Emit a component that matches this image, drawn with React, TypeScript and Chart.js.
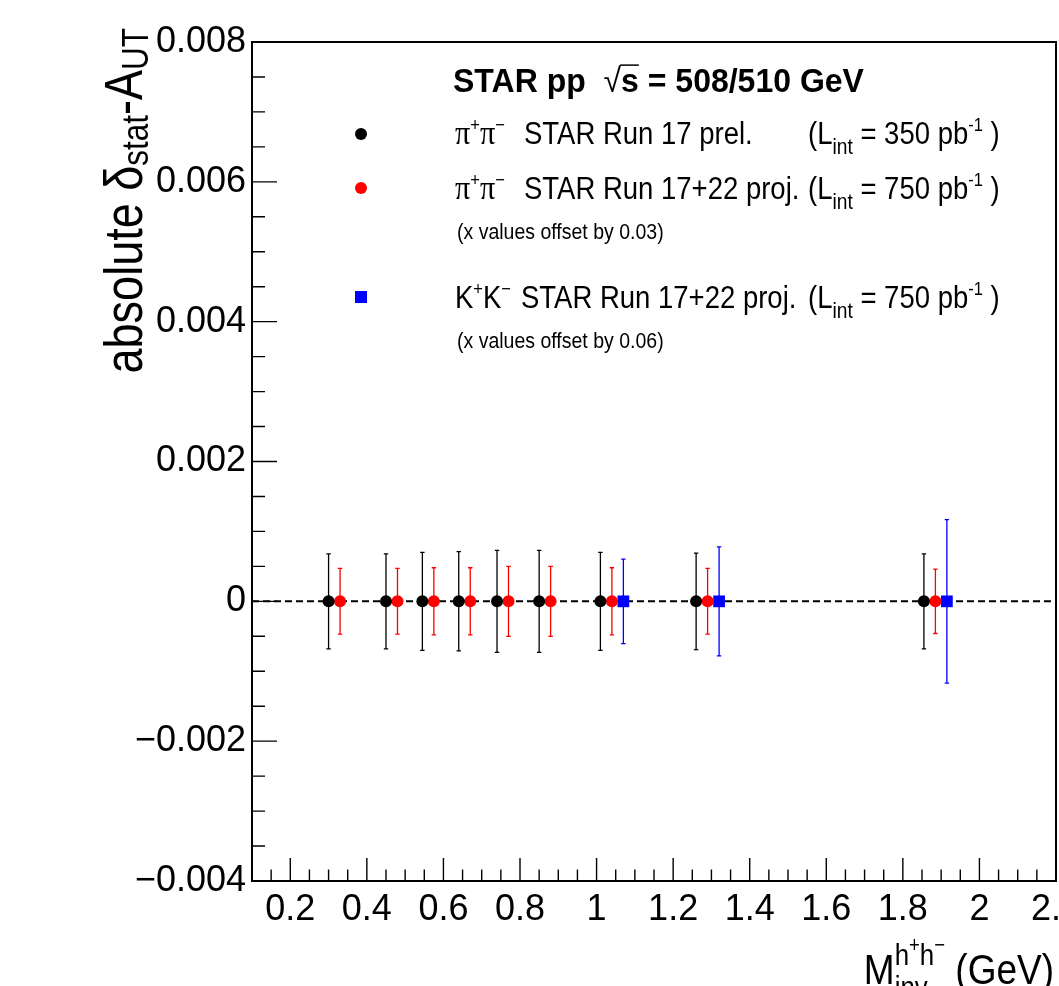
import React, { useEffect, useRef } from "react";
import { Chart, registerables } from "chart.js";

Chart.register(...registerables);

// ---------- data ----------
const pipiRun17X = [0.3, 0.45, 0.545, 0.64, 0.74, 0.85, 1.01, 1.26, 1.855];
const pipiRun17Y = [0, 0, 0, 0, 0, 0, 0, 0, 0];
const pipiRun17Err = [0.00068, 0.00068, 0.0007, 0.00071, 0.00073, 0.00073, 0.0007, 0.00069, 0.00068];

const pipiProjX = [0.33, 0.48, 0.575, 0.67, 0.77, 0.88, 1.04, 1.29, 1.885];
const pipiProjY = [0, 0, 0, 0, 0, 0, 0, 0, 0];
const pipiProjErr = [0.00047, 0.00047, 0.00048, 0.00048, 0.0005, 0.0005, 0.00048, 0.00047, 0.00046];

const kkProjX = [1.07, 1.32, 1.915];
const kkProjY = [0, 0, 0];
const kkProjErr = [0.000605, 0.00078, 0.00117];

const xTickValues = [0.2, 0.4, 0.6, 0.8, 1.0, 1.2, 1.4, 1.6, 1.8, 2.0, 2.2];
const xTickLabels = ["0.2", "0.4", "0.6", "0.8", "1", "1.2", "1.4", "1.6", "1.8", "2", "2.2"];
const yTickValues = [-0.004, -0.002, 0, 0.002, 0.004, 0.006, 0.008];
const yTickLabels = ["\u22120.004", "\u22120.002", "0", "0.002", "0.004", "0.006", "0.008"];

const seriesErrors = [pipiRun17Err, pipiProjErr, kkProjErr];

// ---------- rich text helpers ----------
type Seg = { t: string; s?: number; dy?: number; fam?: string; adv?: boolean; bold?: boolean };
const SANS = '"Liberation Sans", Arial, Helvetica, sans-serif';
const SERIF = '"Liberation Serif", "Times New Roman", serif';

function setFont(ctx: CanvasRenderingContext2D, seg: Seg, size: number, bold: boolean) {
  const sz = size * (seg.s ?? 1);
  const b = seg.bold ?? bold;
  ctx.font = `${b ? "bold " : ""}${sz}px ${seg.fam ?? SANS}`;
}
function measureRich(ctx: CanvasRenderingContext2D, segs: Seg[], size: number, bold = false) {
  let w = 0;
  for (const seg of segs) {
    setFont(ctx, seg, size, bold);
    const m = ctx.measureText(seg.t).width;
    if (seg.adv !== false) w += m;
  }
  return w;
}
function drawRich(
  ctx: CanvasRenderingContext2D,
  segs: Seg[],
  x: number,
  y: number,
  size: number,
  bold = false,
  k = 1
) {
  ctx.save();
  ctx.translate(x, y);
  ctx.scale(1, k);
  ctx.textBaseline = "alphabetic";
  ctx.textAlign = "left";
  let cx = 0;
  for (const seg of segs) {
    setFont(ctx, seg, size, bold);
    ctx.fillText(seg.t, cx, (seg.dy ?? 0) * size);
    if (seg.adv !== false) cx += ctx.measureText(seg.t).width;
  }
  ctx.restore();
  return x + cx;
}

const pipiSym: Seg[] = [
  { t: "\u03c0", fam: SERIF, s: 1.1 },
  { t: "+", s: 0.6, dy: -0.42 },
  { t: "\u03c0", fam: SERIF, s: 1.1 },
  { t: "\u2212", s: 0.6, dy: -0.42 },
];
const kkSym: Seg[] = [
  { t: "K" },
  { t: "+", s: 0.6, dy: -0.42 },
  { t: "K" },
  { t: "\u2212", s: 0.6, dy: -0.42 },
];
function lumi(v: string): Seg[] {
  return [
    { t: "(L" },
    { t: "int", s: 0.7, dy: 0.32 },
    { t: ` = ${v} pb` },
    { t: "-1", s: 0.6, dy: -0.42 },
    { t: " )" },
  ];
}

const decor = {
  id: "decor",
  beforeDatasetsDraw(chart: any) {
    const { ctx, chartArea: a, scales } = chart;
    const y = scales.y;
    ctx.save();
    ctx.strokeStyle = "#000";
    ctx.lineWidth = 2;
    ctx.setLineDash([7, 4]);
    const y0 = y.getPixelForValue(0);
    ctx.beginPath();
    ctx.moveTo(a.left, y0);
    ctx.lineTo(a.right, y0);
    ctx.stroke();
    ctx.setLineDash([]);
    chart.data.datasets.forEach((ds: any, i: number) => {
      const meta = chart.getDatasetMeta(i);
      const errs = seriesErrors[i];
      ctx.strokeStyle = ds.backgroundColor;
      ctx.lineWidth = 1.3;
      meta.data.forEach((pt: any, j: number) => {
        const raw = ds.data[j];
        const yt = y.getPixelForValue(raw.y + errs[j]);
        const yb = y.getPixelForValue(raw.y - errs[j]);
        const px = pt.x;
        ctx.beginPath();
        ctx.moveTo(px, yt);
        ctx.lineTo(px, yb);
        ctx.moveTo(px - 2.2, yt);
        ctx.lineTo(px + 2.2, yt);
        ctx.moveTo(px - 2.2, yb);
        ctx.lineTo(px + 2.2, yb);
        ctx.stroke();
      });
    });
    ctx.restore();
  },
  afterDraw(chart: any) {
    const { ctx, chartArea: a, scales } = chart;
    const xs = scales.x;
    const ys = scales.y;
    ctx.save();
    // frame
    ctx.strokeStyle = "#000";
    ctx.lineWidth = 2;
    ctx.strokeRect(a.left, a.top, a.right - a.left, a.bottom - a.top);
    // ticks
    ctx.lineWidth = 1.4;
    ctx.beginPath();
    for (let k = 1; k < 42; k++) {
      const v = 0.1 + k * 0.05;
      const major = Math.abs(v / 0.2 - Math.round(v / 0.2)) < 1e-6;
      const px = xs.getPixelForValue(v);
      ctx.moveTo(px, a.bottom);
      ctx.lineTo(px, a.bottom - (major ? 23 : 11.5));
    }
    for (let k = 1; k < 24; k++) {
      const v = -0.004 + k * 0.0005;
      const major = k % 4 === 0;
      const py = ys.getPixelForValue(v);
      ctx.moveTo(a.left, py);
      ctx.lineTo(a.left + (major ? 25 : 13), py);
    }
    ctx.stroke();
    ctx.fillStyle = "#000";

    // y-axis title (rotated)
    const yTitle: Seg[] = [
      { t: "absolute " },
      { t: "\u03b4" },
      { t: "stat", s: 0.7, dy: 0.12 },
      { t: "-A" },
      { t: "UT", s: 0.7, dy: 0.12 },
    ];
    const ytSize = 45;
    const ytw = measureRich(ctx, yTitle, ytSize);
    ctx.save();
    ctx.translate(142, 28);
    ctx.rotate(-Math.PI / 2);
    drawRich(ctx, yTitle, -ytw, 0, ytSize, false, 1.2);
    ctx.restore();

    // x-axis title
    const xTitle: Seg[] = [
      { t: "M" },
      { t: "inv", s: 0.7, dy: 0.3, adv: false },
      { t: "h", s: 0.7, dy: -0.45 },
      { t: "+", s: 0.5, dy: -0.75 },
      { t: "h", s: 0.7, dy: -0.45 },
      { t: "\u2212", s: 0.5, dy: -0.75 },
      { t: " (GeV)" },
    ];
    const xtSize = 37;
    const xtw = measureRich(ctx, xTitle, xtSize);
    drawRich(ctx, xTitle, 1054 - xtw, 984, xtSize, false, 1.15);

    // header
    const hSize = 32;
    const hb = 92;
    const hk = 1.05;
    const cx = drawRich(ctx, [{ t: "STAR pp  " }], 453, hb, hSize, true, hk);
    const sq = drawRich(ctx, [{ t: "\u221a" }], cx, hb, hSize, false, hk);
    ctx.font = `bold ${hSize}px ${SANS}`;
    const sw = ctx.measureText("s").width;
    ctx.lineWidth = 1.5;
    ctx.beginPath();
    ctx.moveTo(sq - 1, hb - hSize * 0.8 * hk);
    ctx.lineTo(sq + sw, hb - hSize * 0.8 * hk);
    ctx.stroke();
    drawRich(ctx, [{ t: "s = 508/510 GeV" }], sq, hb, hSize, true, hk);

    // legend rows
    const rSize = 27.5;
    const rk = 1.12;
    const rows = [
      { y: 144, sym: pipiSym, text: "STAR Run 17 prel.", tx: 524, lv: "350", color: "#000", shape: "circle", my: 134 },
      { y: 199, sym: pipiSym, text: "STAR Run 17+22 proj.", tx: 524, lv: "750", color: "#ff0000", shape: "circle", my: 188 },
      { y: 308, sym: kkSym, text: "STAR Run 17+22 proj.", tx: 521, lv: "750", color: "#0000ff", shape: "rect", my: 297 },
    ];
    for (const r of rows) {
      ctx.fillStyle = "#000";
      drawRich(ctx, r.sym, 455, r.y, rSize, false, rk);
      drawRich(ctx, [{ t: r.text }], r.tx, r.y, rSize, false, rk);
      drawRich(ctx, lumi(r.lv), 808, r.y, rSize, false, rk);
      ctx.fillStyle = r.color;
      if (r.shape === "circle") {
        ctx.beginPath();
        ctx.arc(361, r.my, 6, 0, Math.PI * 2);
        ctx.fill();
      } else {
        ctx.fillRect(361 - 6, r.my - 6, 12, 12);
      }
    }
    ctx.fillStyle = "#000";
    drawRich(ctx, [{ t: "(x values offset by 0.03)" }], 457, 239, 19.5, false, 1.1);
    drawRich(ctx, [{ t: "(x values offset by 0.06)" }], 457, 348, 19.5, false, 1.1);
    ctx.restore();
  },
};

export default function App() {
  const ref = useRef<HTMLCanvasElement | null>(null);
  useEffect(() => {
    if (!ref.current) return;
    const mk = (xs: number[], ys: number[]) => xs.map((x, i) => ({ x, y: ys[i] }));
    const chart = new Chart(ref.current, {
      type: "scatter",
      data: {
        datasets: [
          {
            label: "pipi run17",
            data: mk(pipiRun17X, pipiRun17Y),
            backgroundColor: "#000000",
            borderColor: "#000000",
            pointStyle: "circle",
            pointRadius: 6,
            borderWidth: 0,
          },
          {
            label: "pipi proj",
            data: mk(pipiProjX, pipiProjY),
            backgroundColor: "#ff0000",
            borderColor: "#ff0000",
            pointStyle: "circle",
            pointRadius: 6,
            borderWidth: 0,
          },
          {
            label: "KK proj",
            data: mk(kkProjX, kkProjY),
            backgroundColor: "#0000ff",
            borderColor: "#0000ff",
            pointStyle: "rect",
            pointRadius: 8.3,
            borderWidth: 0,
          },
        ],
      },
      options: {
        responsive: false,
        animation: false,
        events: [],
        layout: { autoPadding: false, padding: { top: 42, right: 3, left: 0, bottom: 0 } },
        plugins: { legend: { display: false }, tooltip: { enabled: false } },
        scales: {
          x: {
            type: "linear",
            min: 0.1,
            max: 2.2,
            grid: { display: false, drawTicks: false },
            border: { display: false },
            afterBuildTicks: (s: any) => {
              s.ticks = xTickValues.map((v) => ({ value: v }));
            },
            afterFit: (s: any) => {
              s.height = 105;
              s.paddingLeft = 0;
              s.paddingRight = 0;
            },
            ticks: {
              autoSkip: false,
              maxRotation: 0,
              minRotation: 0,
              padding: 7,
              color: "#000",
              font: { family: SANS, size: 36 },
              callback: (v: any) => {
                const i = xTickValues.findIndex((t) => Math.abs(t - Number(v)) < 1e-9);
                return i >= 0 ? xTickLabels[i] : "";
              },
            },
          },
          y: {
            type: "linear",
            min: -0.004,
            max: 0.008,
            grid: { display: false, drawTicks: false },
            border: { display: false },
            afterBuildTicks: (s: any) => {
              s.ticks = yTickValues.map((v) => ({ value: v }));
            },
            afterFit: (s: any) => {
              s.width = 252;
              s.paddingTop = 0;
              s.paddingBottom = 0;
            },
            ticks: {
              autoSkip: false,
              padding: 6,
              color: "#000",
              font: { family: SANS, size: 36 },
              callback: (v: any) => {
                const i = yTickValues.findIndex((t) => Math.abs(t - Number(v)) < 1e-12);
                return i >= 0 ? yTickLabels[i] : "";
              },
            },
          },
        },
      },
      plugins: [decor],
    } as any);
    return () => chart.destroy();
  }, []);
  return (
    <div style={{ position: "fixed", left: 0, top: 0, width: 1059, height: 986, background: "#fff" }}>
      <canvas ref={ref} width={1059} height={986} style={{ display: "block" }} />
    </div>
  );
}
